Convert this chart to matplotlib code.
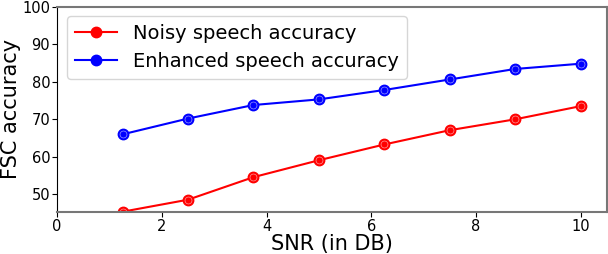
import matplotlib.pyplot as plt

# SNR levels and accuracies
snr = [1.25, 2.5, 3.75, 5.0, 6.25, 7.5, 8.75, 10.0]
noisy_acc = [45.4, 48.6, 54.6, 59.1, 63.3, 67.1, 70.0, 73.5]
enhanced_acc = [66.0, 70.2, 73.8, 75.3, 77.8, 80.6, 83.4, 84.8]

fig, ax = plt.subplots(figsize=(6.08, 2.54), dpi=100)
fig.subplots_adjust(left=0.094, right=0.998, top=0.974, bottom=0.165)

for vals, col, lab in [(noisy_acc, "red", "Noisy speech accuracy"),
                       (enhanced_acc, "blue", "Enhanced speech accuracy")]:
    ax.plot(snr, vals, color=col, marker="o", markersize=7.5, label=lab,
            linewidth=1.5)
    ax.plot(snr, vals, linestyle="none", marker="o", markersize=5,
            markerfacecolor="none", markeredgecolor="white",
            markeredgewidth=0.5, alpha=0.6)

ax.set_xlim(0, 10.5)
ax.set_ylim(45.3, 100)
ax.set_xticks([0, 2, 4, 6, 8, 10])
ax.set_yticks([50, 60, 70, 80, 90, 100])
ax.tick_params(labelsize=10.5, pad=1.5)

ax.set_xlabel("SNR (in DB)", fontsize=15, labelpad=0)
ax.set_ylabel("FSC accuracy", fontsize=15, labelpad=1)

for side in ["top", "right", "bottom"]:
    ax.spines[side].set_color("#777777")
    ax.spines[side].set_linewidth(1.5)
ax.spines["left"].set_color("black")

ax.legend(loc="upper left", fontsize=14, handlelength=2.2,
          borderpad=0.4, labelspacing=0.45)

plt.savefig("out.png")
